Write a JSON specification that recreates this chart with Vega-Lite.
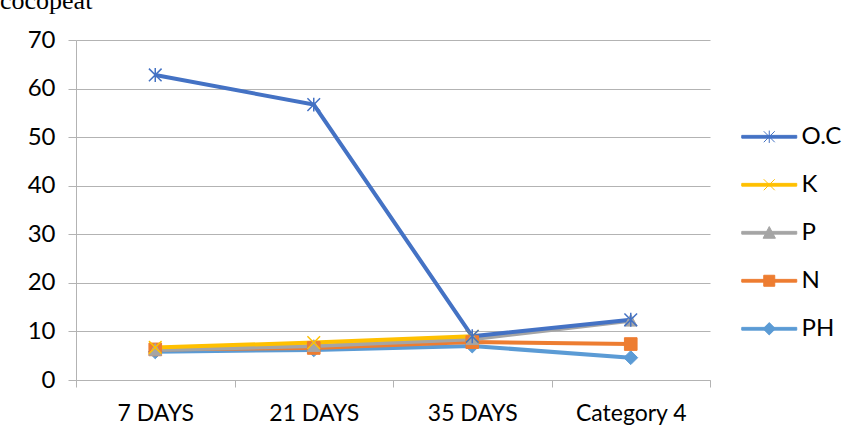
{
  "$schema": "https://vega.github.io/schema/vega-lite/v6.json",
  "width": 634,
  "height": 340,
  "autosize": {"type": "none"},
  "padding": {"left": 76, "top": 40, "right": 143, "bottom": 61},
  "background": "white",
  "config": {"view": {"stroke": null}},
  "title": {
    "text": "cocopeat",
    "font": "Liberation Serif",
    "fontSize": 26,
    "fontWeight": "normal",
    "color": "black",
    "anchor": "start",
    "frame": "group",
    "baseline": "alphabetic",
    "offset": 0,
    "dx": -76,
    "dy": 7
  },
  "data": {
    "values": [
      {"series": "PH", "day": "7 DAYS", "value": 5.8},
      {"series": "PH", "day": "21 DAYS", "value": 6.2},
      {"series": "PH", "day": "35 DAYS", "value": 7.0},
      {"series": "PH", "day": "Category 4", "value": 4.6},
      {"series": "N", "day": "7 DAYS", "value": 6.3},
      {"series": "N", "day": "21 DAYS", "value": 6.6},
      {"series": "N", "day": "35 DAYS", "value": 7.8},
      {"series": "N", "day": "Category 4", "value": 7.4},
      {"series": "P", "day": "7 DAYS", "value": 6.2},
      {"series": "P", "day": "21 DAYS", "value": 7.0},
      {"series": "P", "day": "35 DAYS", "value": 8.4},
      {"series": "P", "day": "Category 4", "value": 12.2},
      {"series": "K", "day": "7 DAYS", "value": 6.7},
      {"series": "K", "day": "21 DAYS", "value": 7.7},
      {"series": "K", "day": "35 DAYS", "value": 9.0},
      {"series": "O.C", "day": "7 DAYS", "value": 62.8},
      {"series": "O.C", "day": "21 DAYS", "value": 56.7},
      {"series": "O.C", "day": "35 DAYS", "value": 9.0},
      {"series": "O.C", "day": "Category 4", "value": 12.4}
    ]
  },
  "encoding": {
    "x": {
      "field": "day",
      "type": "ordinal",
      "sort": ["7 DAYS", "21 DAYS", "35 DAYS", "Category 4"],
      "scale": {"paddingInner": 0, "paddingOuter": 0},
      "title": null,
      "axis": {
        "tickBand": "extent",
        "labelAngle": 0,
        "grid": false,
        "domainColor": "#b3b3b3",
        "tickColor": "#b3b3b3",
        "tickSize": 7,
        "labelFont": "Lato",
        "labelFontSize": 23,
        "labelColor": "black",
        "labelPadding": 15
      }
    },
    "y": {
      "field": "value",
      "type": "quantitative",
      "scale": {"domain": [0, 70]},
      "title": null,
      "axis": {
        "values": [0, 10, 20, 30, 40, 50, 60, 70],
        "grid": true,
        "gridColor": "#b3b3b3",
        "domainColor": "#b3b3b3",
        "tickColor": "#b3b3b3",
        "tickSize": 8,
        "labelPadding": 13,
        "labelFont": "Lato",
        "labelFontSize": 24,
        "labelColor": "black"
      }
    }
  },
  "layer": [
    {
      "mark": {"type": "line", "strokeWidth": 4},
      "encoding": {
        "color": {
          "field": "series",
          "type": "nominal",
          "scale": {
            "domain": ["O.C", "K", "P", "N", "PH"],
            "range": ["#4472C4", "#FFC000", "#A5A5A5", "#ED7D31", "#5B9BD5"]
          },
          "legend": {
            "orient": "none",
            "legendX": 678.75,
            "legendY": 82.25,
            "title": null,
            "padding": 0,
            "labelFont": "Lato",
            "labelFontSize": 24,
            "labelColor": "black",
            "symbolSize": 756,
            "rowPadding": 21,
            "labelOffset": 17.75,
            "encode": {
              "symbols": {
                "update": {
                  "shape": {"signal": "datum.value === 'O.C' ? 'M-2,-0.1H2V0.1H-2ZM-0.4,-0.4L0.4,0.4M-0.4,0.4L0.4,-0.4M0,-0.45V0.45' : datum.value === 'K' ? 'M-2,-0.1H2V0.1H-2ZM-0.4,-0.4L0.4,0.4M-0.4,0.4L0.4,-0.4' : datum.value === 'P' ? 'M-2,-0.1H2V0.1H-2ZM0,-0.45L0.45,0.4H-0.45Z' : datum.value === 'N' ? 'M-2,-0.1H2V0.1H-2ZM-0.4,-0.4H0.4V0.4H-0.4Z' : 'M-2,-0.1H2V0.1H-2ZM0,-0.45L0.45,0L0,0.45L-0.45,0Z'"},
                  "fill": {"scale": "color", "field": "value"},
                  "stroke": {"scale": "color", "field": "value"},
                  "strokeWidth": {"value": 1},
                  "opacity": {"value": 1}
                }
              }
            }
          }
        }
      }
    },
    {
      "transform": [{"filter": "datum.series === 'PH'"}],
      "mark": {"type": "point", "filled": true, "opacity": 1, "size": 160, "color": "#5B9BD5", "stroke": "#5B9BD5", "strokeWidth": 1, "shape": "M0,-1.1L1.1,0L0,1.1L-1.1,0Z"}
    },
    {
      "transform": [{"filter": "datum.series === 'N'"}],
      "mark": {"type": "point", "filled": true, "opacity": 1, "size": 160, "color": "#ED7D31", "stroke": "#ED7D31", "strokeWidth": 1, "shape": "M-1,-1H1V1H-1Z"}
    },
    {
      "transform": [{"filter": "datum.series === 'P'"}],
      "mark": {"type": "point", "filled": true, "opacity": 1, "size": 160, "color": "#A5A5A5", "stroke": "#A5A5A5", "strokeWidth": 1, "shape": "M0,-1L1,0.85H-1Z"}
    },
    {
      "transform": [{"filter": "datum.series === 'K'"}],
      "mark": {"type": "point", "filled": false, "opacity": 1, "size": 160, "color": "#FFC000", "strokeWidth": 1.5, "shape": "M-1,-1L1,1M-1,1L1,-1"}
    },
    {
      "transform": [{"filter": "datum.series === 'O.C'"}],
      "mark": {"type": "point", "filled": false, "opacity": 1, "size": 160, "color": "#4472C4", "strokeWidth": 1.5, "shape": "M-1,-1L1,1M-1,1L1,-1M0,-1.1V1.1"}
    }
  ]
}
